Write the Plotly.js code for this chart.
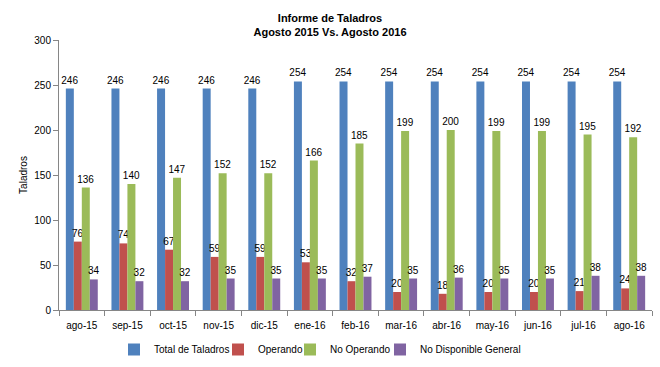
<!DOCTYPE html>
<html><head><meta charset="utf-8">
<script src="https://cdn.plot.ly/plotly-3.0.1.min.js"></script>
<style>html,body{margin:0;padding:0;background:#fff}#chart{width:660px;height:367px}</style>
</head><body><div id="chart"></div>
<script>
const categories = ["ago-15","sep-15","oct-15","nov-15","dic-15","ene-16","feb-16","mar-16","abr-16","may-16","jun-16","jul-16","ago-16"];
const totalTaladros = [246,246,246,246,246,254,254,254,254,254,254,254,254];
const operando = [76,74,67,59,59,53,32,20,18,20,20,21,24];
const noOperando = [136,140,147,152,152,166,185,199,200,199,199,195,192];
const noDisponible = [34,32,32,35,35,35,37,35,36,35,35,38,38];
const seriesNames = ["Total de Taladros","Operando","No Operando","No Disponible General"];
const colors = ["#4F81BD","#C0504D","#9BBB59","#8064A2"];
const allSeries = [totalTaladros, operando, noOperando, noDisponible];
const FONT = "Liberation Sans, Arial, sans-serif";
const legendIds = ["legend","legend2","legend3","legend4"];
const legendX = [114, 218, 290, 380];

const traces = allSeries.map((vals, i) => ({
  type: "bar", name: seriesNames[i], x: categories, y: vals,
  marker: {color: colors[i]}, legend: legendIds[i],
  text: vals.map(String), textposition: "outside", constraintext: "none",
  textfont: {family: FONT, size: 10, color: "#000"},
  cliponaxis: false, hoverinfo: "none"
}));

const layout = {
  width: 660, height: 367,
  margin: {l: 59, r: 8, t: 40, b: 57, autoexpand: false},
  paper_bgcolor: "#fff", plot_bgcolor: "#fff",
  font: {family: FONT, size: 10, color: "#000"},
  barmode: "group", bargap: 0.3, bargroupgap: 0,
  title: {text: "<b>Informe de Taladros<br>Agosto 2015 Vs. Agosto 2016</b>", x: 0.5, xanchor: "center", y: 0.94, yanchor: "top", font: {family: FONT, size: 11, color: "#000"}},
  xaxis: {type: "category", showline: true, linecolor: "#868686", linewidth: 1, ticks: "outside", tickson: "boundaries", ticklen: 5, tickcolor: "#868686", showgrid: false, tickfont: {size: 10}, zeroline: false, ticklabelstandoff: 6},
  yaxis: {range: [0, 300], dtick: 50, showline: true, linecolor: "#868686", linewidth: 1, ticks: "outside", ticklen: 5, tickcolor: "#868686", showgrid: false, zeroline: false, tickfont: {size: 10},
    title: {text: "Taladros", font: {size: 10}, standoff: 4}},
  showlegend: true
};
legendIds.forEach((id, i) => {
  layout[id] = {orientation: "h", xref: "container", yref: "container", x: legendX[i] / 660, xanchor: "left", y: 1 - 335 / 367, yanchor: "top", font: {size: 10}, itemwidth: 30, bgcolor: "rgba(0,0,0,0)"};
});
Plotly.newPlot("chart", traces, layout, {staticPlot: true, displayModeBar: false});
</script></body></html>
